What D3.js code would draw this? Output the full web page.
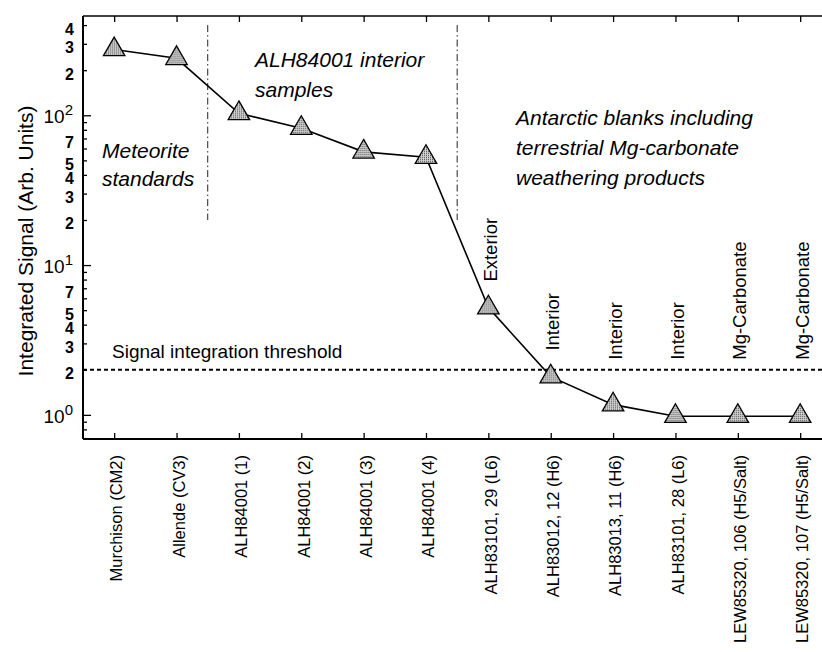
<!DOCTYPE html>
<html>
<head>
<meta charset="utf-8">
<style>
  body { margin: 0; background: #fff; }
  svg { display: block; font-family: "Liberation Sans", Arial, sans-serif; }
  .axis path { stroke: #000; stroke-width: 2px; }
  .axis line { stroke: #000; stroke-width: 1.3px; }
  .series { fill: none; stroke: #000; stroke-width: 1.6px; }
</style>
</head>
<body>
<svg width="822" height="652"></svg>
<script src="https://cdn.jsdelivr.net/npm/d3@7"></script>
<script>
// samples along the x axis
var samples = ["Murchison (CM2)", "Allende (CV3)", "ALH84001 (1)", "ALH84001 (2)", "ALH84001 (3)",
               "ALH84001 (4)", "ALH83101, 29 (L6)", "ALH83012, 12 (H6)", "ALH83013, 11 (H6)",
               "ALH83101, 28 (L6)", "LEW85320, 106 (H5/Salt)", "LEW85320, 107 (H5/Salt)"];
// integrated signal (arb. units)
var signal = [275, 240, 103, 82, 57, 52.5, 5.2, 1.8, 1.17, 0.98, 0.98, 0.98];
// small notes above the blank samples
var notes = ["", "", "", "", "", "", "Exterior", "Interior", "Interior", "Interior", "Mg-Carbonate", "Mg-Carbonate"];
var threshold = 2;
var groupBreaks = [1.5, 5.5];     // dash-dot lines between groups
var breakSpan = [20, 400];        // their vertical extent (signal units)
var minorLabels = [2, 3, 4, 5, 7];

var svg = d3.select("svg"),
    margin = {top: 16, left: 83, bottom: 213, right: 0},
    width = +svg.attr("width") - margin.left - margin.right,
    height = +svg.attr("height") - margin.top - margin.bottom;

var x = d3.scaleLinear().domain([-0.5, 11.35]).range([0, width]);
var y = d3.scaleLog().domain([0.69, 460]).range([height, 0]);

// stipple fill for the triangles
var defs = svg.append("defs");
var pat = defs.append("pattern").attr("id", "stipple")
    .attr("width", 2).attr("height", 2).attr("patternUnits", "userSpaceOnUse");
pat.append("rect").attr("width", 2).attr("height", 2).attr("fill", "#d0d0d0");
pat.append("rect").attr("width", 1).attr("height", 1).attr("fill", "#4a4a4a");

var g = svg.append("g").attr("transform", "translate(" + margin.left + "," + margin.top + ")");

var idx = d3.range(samples.length);

// bottom axis, ticks pointing inward, rotated labels
var gx = g.append("g").attr("class", "axis").attr("transform", "translate(0," + height + ")")
    .call(d3.axisBottom(x).tickValues(idx).tickSizeInner(-6).tickSizeOuter(0)
        .tickFormat(function(i) { return samples[i]; }));
gx.select(".domain").attr("d", "M0,0H" + width);
gx.selectAll(".tick text")
    .attr("transform", "rotate(-90)")
    .attr("text-anchor", "end")
    .attr("x", -16).attr("y", 2).attr("dy", "0.35em")
    .style("font-size", "16.5px").style("fill", "#000");

// top frame line with ticks
var gt = g.append("g").attr("class", "axis")
    .call(d3.axisTop(x).tickValues(idx).tickSizeInner(-6).tickSizeOuter(0).tickFormat(""));
gt.select(".domain").attr("d", "M0,0H" + width).style("stroke-width", "1.5px");

// left axis: minor ticks first, then majors
var allTicks = y.ticks();
var majors = allTicks.filter(function(d) { return Math.abs(Math.log10(d) - Math.round(Math.log10(d))) < 1e-9; });
var minors = allTicks.filter(function(d) { return majors.indexOf(d) < 0; });

var gyMinor = g.append("g").attr("class", "axis")
    .call(d3.axisLeft(y).tickValues(minors).tickSizeInner(-4).tickSizeOuter(0).tickPadding(9)
        .tickFormat(function(d) {
            var lead = Math.round(d / Math.pow(10, Math.floor(Math.log10(d) + 1e-9)));
            return minorLabels.indexOf(lead) >= 0 && d >= 1 ? lead : "";
        }));
gyMinor.select(".domain").attr("d", "M0,0V" + height);
gyMinor.selectAll(".tick text")
    .attr("dy", "9px")
    .style("font-size", "16px").style("font-weight", "bold").style("fill", "#000");

var gyMajor = g.append("g").attr("class", "axis")
    .call(d3.axisLeft(y).tickValues(majors).tickSizeInner(-8).tickSizeOuter(0).tickPadding(10)
        .tickFormat(""));
gyMajor.select(".domain").remove();
gyMajor.selectAll(".tick text").each(function(d) {
    var t = d3.select(this).attr("dy", "7.5px").style("fill", "#000");
    t.append("tspan").style("font-size", "19px").text("10");
    t.append("tspan").style("font-size", "15px").attr("dy", "-8px").text(Math.round(Math.log10(d)));
});

// y title
svg.append("text")
    .attr("transform", "translate(33,241) rotate(-90)")
    .attr("text-anchor", "middle")
    .style("font-size", "21px")
    .text("Integrated Signal (Arb. Units)");

// group separators
g.selectAll(".sep").data(groupBreaks).enter().append("line")
    .attr("class", "sep")
    .attr("x1", function(d) { return x(d); }).attr("x2", function(d) { return x(d); })
    .attr("y1", y(breakSpan[1])).attr("y2", y(breakSpan[0]))
    .style("stroke", "#222").style("stroke-width", "1px")
    .style("stroke-dasharray", "7,3,1.5,3");

// threshold
g.append("line")
    .attr("x1", 0).attr("x2", width)
    .attr("y1", y(threshold)).attr("y2", y(threshold))
    .style("stroke", "#000").style("stroke-width", "2px").style("stroke-dasharray", "4,3");
g.append("text")
    .attr("x", 29).attr("y", y(threshold) - 12)
    .style("font-size", "19px")
    .text("Signal integration threshold");

// series line and markers
var line = d3.line().x(function(d, i) { return x(i); }).y(function(d) { return y(d); });
g.append("path").datum(signal).attr("class", "series").attr("d", line);

g.selectAll(".mark").data(signal).enter().append("path")
    .attr("class", "mark")
    .attr("d", d3.symbol().type(d3.symbolTriangle).size(200))
    .attr("transform", function(d, i) { return "translate(" + x(i) + "," + y(d) + ")"; })
    .style("fill", "url(#stipple)").style("stroke", "#000").style("stroke-width", "1.3px");

// notes above points
g.selectAll(".note").data(idx.filter(function(i) { return notes[i]; })).enter().append("text")
    .attr("class", "note")
    .attr("transform", function(i) {
        var yy = Math.min(y(signal[i]) - 26, y(threshold) - 10);
        return "translate(" + (x(i) + 2) + "," + yy + ") rotate(-90)";
    })
    .attr("dy", "0.35em")
    .style("font-size", "18.5px")
    .text(function(i) { return notes[i]; });

// group annotations
function block(lines, px, py, step) {
    var t = g.append("text").style("font-size", "21px").style("font-style", "italic");
    lines.forEach(function(s, k) {
        t.append("tspan").attr("x", px).attr("y", py + k * step).text(s);
    });
}
block(["Meteorite", "standards"], 19, 142, 28);
block(["ALH84001 interior", "samples"], 172, 51, 30);
block(["Antarctic blanks including", "terrestrial Mg-carbonate", "weathering products"], 433, 109, 30);
</script>
</body>
</html>
